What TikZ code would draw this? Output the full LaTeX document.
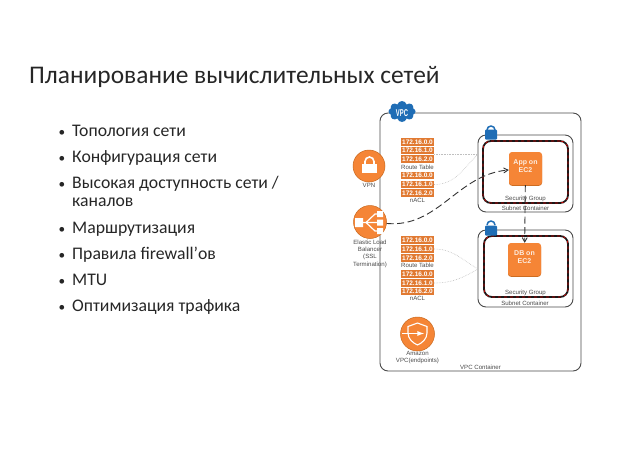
\documentclass[tikz,border=0pt]{standalone}
\usepackage{fontspec}
\setmainfont{Carlito}
\newfontfamily\labelfont{Liberation Sans}
\usetikzlibrary{arrows,shapes}
\definecolor{awsorange}{HTML}{F58536}
\definecolor{awsdark}{HTML}{C8691F}
\definecolor{awsblue}{HTML}{1F6DB5}
\definecolor{inkgray}{HTML}{4A4A4A}
\newcommand{\itemdot}{\makebox[15pt][l]{\hspace*{1.5pt}\scalebox{.75}{•}}}
\tikzstyle{title}=[anchor=base west,inner sep=0pt,font=\fontsize{25.4}{30}\selectfont,text=black!85]
\tikzstyle{bulletline}=[anchor=base west,inner sep=0pt,font=\fontsize{17.7}{18}\selectfont,text=black!85]
\tikzstyle{container}=[draw=inkgray,line width=0.9pt,rounded corners=8pt,inner sep=0pt]
\tikzstyle{sgbox}=[draw=black!90,line width=1.8pt,rounded corners=8pt,inner sep=0pt,postaction={draw=red!85!black,line width=0.6pt,dashed}]
\tikzstyle{ip}=[fill=awsorange!92!black,text=white,minimum width=33pt,minimum height=7.4pt,inner sep=0pt,font=\labelfont\bfseries\fontsize{6.5}{7}\selectfont]
\tikzstyle{small}=[inner sep=0pt,text=inkgray,align=center,font=\labelfont\fontsize{6.1}{7.3}\selectfont]
\tikzstyle{instance}=[fill=awsorange,rounded corners=3pt,minimum size=33pt,inner sep=0pt]
\tikzstyle{instancetext}=[inner sep=0pt,text=white!85!awsorange,align=center,font=\labelfont\bfseries\fontsize{7}{8.2}\selectfont]
\tikzstyle{service}=[circle,fill=awsorange,draw=awsdark,line width=0.5pt,inner sep=0pt]
\tikzstyle{hint}=[draw=black!25,densely dotted,line width=0.6pt]
\tikzstyle{traffic}=[draw=black!80,line width=0.9pt,dash pattern=on 7pt off 3.5pt,->,>=angle 60]
\tikzstyle{lockbody}=[fill=awsblue,rounded corners=1pt,minimum width=12pt,minimum height=10pt,inner sep=0pt]
\begin{document}
\begin{tikzpicture}[x=1pt,y=-1pt]
      \useasboundingbox (0,0) rectangle (638,451);
      \node[title] (heading) at (29,83.5) {Планирование вычислительных сетей};
      \node[bulletline] (topology) at (57,136.5) {\itemdot Топология сети};
      \node[bulletline] (config) at (57,162.5) {\itemdot Конфигурация сети};
      \node[bulletline] (avail) at (57,188.5) {\itemdot Высокая доступность сети /};
      \node[bulletline] (availb) at (72,206.5) {каналов};
      \node[bulletline] (routing) at (57,233.5) {\itemdot Маршрутизация};
      \node[bulletline] (firewall) at (57,259.5) {\itemdot Правила firewall’ов};
      \node[bulletline] (mtu) at (57,285.5) {\itemdot MTU};
      \node[bulletline] (traffic) at (57,311.5) {\itemdot Оптимизация трафика};
      % containers
      \node[container,minimum width=201pt,minimum height=258pt] (vpc) at (480.5,242) {};
      \node[container,minimum width=95pt,minimum height=77pt] (subneta) at (525.5,173.5) {};
      \node[container,minimum width=95pt,minimum height=77pt] (subnetb) at (525.5,268.5) {};
      \node[sgbox,minimum width=85pt,minimum height=62pt] (sga) at (525.5,172) {};
      \node[sgbox,minimum width=84pt,minimum height=61pt] (sgb) at (526,266.5) {};
      \node[cloud,cloud puffs=8,aspect=1.3,fill=awsblue,minimum width=27pt,minimum height=21pt,inner sep=0pt] (vpccloud) at (402,111.5) {};
      \node[text=white,inner sep=0pt,font=\labelfont\bfseries\fontsize{9}{9}\selectfont] (vpctext) at (402,113) {\scalebox{.65}[1.1]{VPC}};
      % locks
      \draw[awsblue,line width=1.5pt] (487,130) arc (180:360:4);
      \draw[awsblue,line width=1.5pt] (487,225) arc (180:360:4);
      \node[lockbody] (locka) at (491,134.5) {};
      \node[lockbody] (lockb) at (491,230.5) {};
      % instances
      \node[instance,fill=awsdark] (appbase) at (525.5,169.3) {};
      \node[instance] (app) at (525.5,168.5) {};
      \node[instancetext] (apptext) at (525.5,166) {App on\\EC2};
      \node[instance,fill=awsdark] (dbbase) at (524.5,260.3) {};
      \node[instance] (db) at (524.5,259.5) {};
      \node[instancetext] (dbtext) at (524.5,257) {DB on\\EC2};
      % route tables and nacls
      \node[ip] (rta) at (417.5,142) {172.16.0.0};
      \node[ip] (rtb) at (417.5,150.5) {172.16.1.0};
      \node[ip] (rtc) at (417.5,159) {172.16.2.0};
      \node[small] (rtlabel) at (417.5,167) {Route Table};
      \node[ip] (nacla) at (417.5,175.5) {172.16.0.0};
      \node[ip] (naclb) at (417.5,184.5) {172.16.1.0};
      \node[ip] (naclc) at (417.5,193) {172.16.2.0};
      \node[small] (nacllabel) at (417.5,200.5) {nACL};
      \node[ip] (rtd) at (417.5,240) {172.16.0.0};
      \node[ip] (rte) at (417.5,249) {172.16.1.0};
      \node[ip] (rtf) at (417.5,258) {172.16.2.0};
      \node[small] (rtlabelb) at (417.5,265) {Route Table};
      \node[ip] (nacld) at (417.5,274) {172.16.0.0};
      \node[ip] (nacle) at (417.5,283) {172.16.1.0};
      \node[ip] (naclf) at (417.5,291.5) {172.16.2.0};
      \node[small] (nacllabelb) at (417.5,298.5) {nACL};
      % services
      \node[service,minimum size=32pt] (vpn) at (369,166) {};
      \fill[white] (362,164) rectangle (377,172.5);
      \draw[white,line width=1.6pt] (365,164) -- (365,161.5) arc (180:360:4.5) -- (374,164);
      \node[small] (vpnlabel) at (369,185) {VPN};
      \node[service,minimum size=33pt] (elb) at (370,222) {};
      \draw[white,line width=1.2pt] (359,222.5) -- (366,222.5) -- (375,214) -- (381,214) (366,222.5) -- (381,222.5) (366,222.5) -- (375,231) -- (381,231);
      \fill[white] (355,218) rectangle (363,227) (377,211) rectangle (383,217) (377,219.5) rectangle (383,225.5) (377,228) rectangle (383,234);
      \node[small] (elblabel) at (370,253.5) {Elastic Load\\Balancer\\(SSL\\Termination)};
      \node[service,minimum size=34pt] (endpoint) at (417.5,334) {};
      \draw[white,line width=1.1pt] (417.5,323) -- (427,326.5) -- (427,333) .. controls (427,339) and (422,343) .. (417.5,345) .. controls (413,343) and (408,339) .. (408,333) -- (408,326.5) -- cycle;
      \draw[white,line width=1.3pt,->,>=latex] (402,333.5) -- (424,333.5);
      \node[small] (endpointlabel) at (417.5,357.5) {Amazon\\VPC(endpoints)};
      % captions
      \node[small] (sgalabel) at (525.5,198.5) {Security Group};
      \node[small] (subnetalabel) at (525.5,208) {Subnet Container};
      \node[small] (sgblabel) at (525.5,292.5) {Security Group};
      \node[small] (subnetblabel) at (525,303) {Subnet Container};
      \node[small] (vpclabel) at (480.5,367) {VPC Container};
      % connectors
      \coordinate (subnetain) at (478,154);
      \coordinate (subnetbin) at (478,269);
      \draw[hint] (rtb.east |- subnetain) -- (subnetain);
      \draw[hint] (naclb.east) to[out=0,in=225] (subnetain);
      \draw[hint] (rte.east) to[out=0,in=150] (subnetbin);
      \draw[hint] (nacle.east) to[out=0,in=210] (subnetbin);
      \draw[traffic] (elb) to[out=-5,in=185] (app);
      \draw[traffic] (app) -- (db);
  \end{tikzpicture}
\end{document}
